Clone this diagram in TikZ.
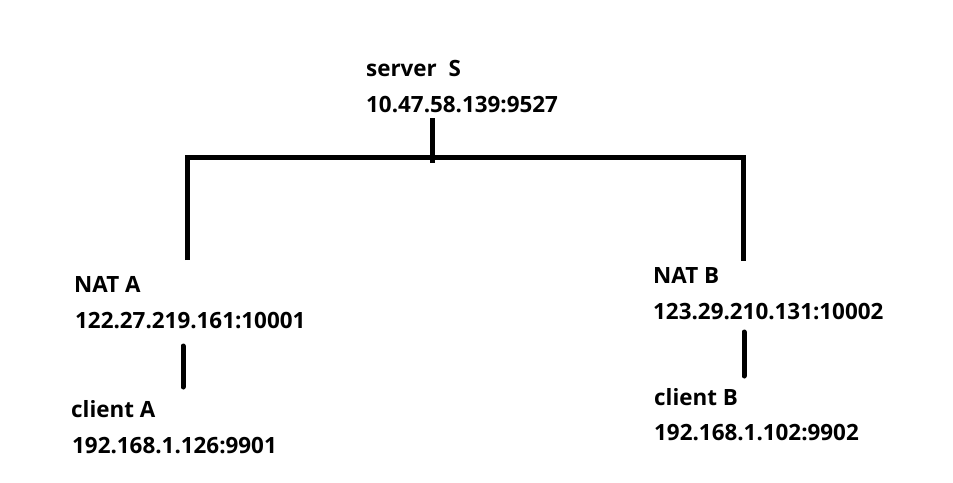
\documentclass[tikz,border=0pt]{standalone}
\usepackage{fontspec}
\setmainfont{Open Sans}
\begin{document}
\begin{tikzpicture}[x=1pt,y=-1pt,
  lbl/.style={anchor=base west,inner sep=0pt,font=\fontsize{22.4}{26}\selectfont\bfseries},
  wire/.style={line width=5pt,black}]
\useasboundingbox (0,0) rectangle (953,482);
\fill[white] (0,0) rectangle (953,482);
% labels
\node[lbl] (sname) at (366,76) {server\ \ S};
\node[lbl] (sip) at (366,112) {10.47.58.139:9527};
\node[lbl] (naname) at (74,292) {NAT A};
\node[lbl] (naip) at (75,328) {122.27.219.161:10001};
\node[lbl] (caname) at (71,417) {client A};
\node[lbl] (caip) at (72,453) {192.168.1.126:9901};
\node[lbl] (nbname) at (653,283) {NAT B};
\node[lbl] (nbip) at (653,319) {123.29.210.131:10002};
\node[lbl] (cbname) at (654,405) {client B};
\node[lbl] (cbip) at (654,440) {192.168.1.102:9902};
% coordinates
\coordinate (stop) at (432,118);
\coordinate (sbot) at (432,163);
\coordinate (busl) at (187,157);
\coordinate (busr) at (743,157);
\coordinate (natl) at (187,260);
\coordinate (natr) at (743,261);
\coordinate (altop) at (183,346);
\coordinate (albot) at (183,387);
\coordinate (brtop) at (744,332);
\coordinate (brbot) at (744,376);
% wires
\draw[wire] (stop) -- (sbot);
\draw[wire] (natl) -- (busl) -- (busr) -- (natr);
\draw[wire,line cap=round] (altop) -- (albot);
\draw[wire,line cap=round] (brtop) -- (brbot);
\end{tikzpicture}
\end{document}
